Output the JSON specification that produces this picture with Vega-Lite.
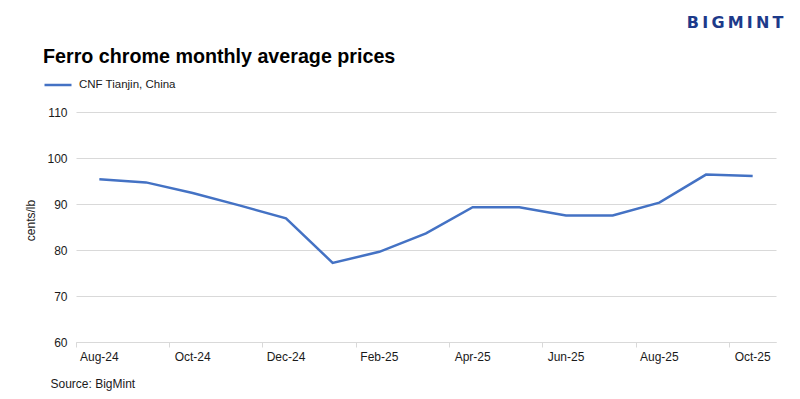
{
  "$schema": "https://vega.github.io/schema/vega-lite/v6.json",
  "width": 700,
  "height": 230,
  "autosize": {"type": "none"},
  "padding": {"left": 76, "top": 112, "right": 24, "bottom": 57},
  "background": "white",
  "config": {"view": {"stroke": null}, "font": "Liberation Sans"},
  "title": {"text": "Ferro chrome monthly average prices", "anchor": "start", "frame": "group", "dx": -33, "offset": -53, "fontSize": 19.7, "font": "Liberation Sans", "fontWeight": "bold", "color": "#000000"},
  "data": {"values": [
    {"month": "Aug-24", "price": 95.4, "series": "CNF Tianjin, China"},
    {"month": "Sep-24", "price": 94.7, "series": "CNF Tianjin, China"},
    {"month": "Oct-24", "price": 92.4, "series": "CNF Tianjin, China"},
    {"month": "Nov-24", "price": 89.7, "series": "CNF Tianjin, China"},
    {"month": "Dec-24", "price": 86.9, "series": "CNF Tianjin, China"},
    {"month": "Jan-25", "price": 77.2, "series": "CNF Tianjin, China"},
    {"month": "Feb-25", "price": 79.6, "series": "CNF Tianjin, China"},
    {"month": "Mar-25", "price": 83.6, "series": "CNF Tianjin, China"},
    {"month": "Apr-25", "price": 89.3, "series": "CNF Tianjin, China"},
    {"month": "May-25", "price": 89.3, "series": "CNF Tianjin, China"},
    {"month": "Jun-25", "price": 87.5, "series": "CNF Tianjin, China"},
    {"month": "Jul-25", "price": 87.5, "series": "CNF Tianjin, China"},
    {"month": "Aug-25", "price": 90.3, "series": "CNF Tianjin, China"},
    {"month": "Sep-25", "price": 96.4, "series": "CNF Tianjin, China"},
    {"month": "Oct-25", "price": 96.1, "series": "CNF Tianjin, China"}
  ]},
  "layer": [
    {
      "mark": {"type": "line", "strokeWidth": 2.5, "strokeJoin": "miter"},
      "encoding": {
        "x": {
          "field": "month", "type": "ordinal", "sort": null, "bandPosition": 0.5,
          "scale": {"type": "band", "paddingInner": 0, "paddingOuter": 0},
          "axis": {
            "values": ["Aug-24", "Oct-24", "Dec-24", "Feb-25", "Apr-25", "Jun-25", "Aug-25", "Oct-25"],
            "bandPosition": 0, "labelAngle": 0, "grid": false,
            "domainColor": "#d9d9d9", "tickColor": "#d9d9d9", "tickSize": 5,
            "labelFontSize": 12, "labelColor": "#1a1a1a", "labelPadding": 4,
            "title": "Source: BigMint", "titleFontSize": 12, "titleFontWeight": "normal", "titleColor": "#1a1a1a",
            "titleX": -26, "titleY": 41, "titleAlign": "left", "titleBaseline": "middle"
          }
        },
        "y": {
          "field": "price", "type": "quantitative",
          "scale": {"domain": [60, 110], "nice": false, "zero": false},
          "axis": {
            "values": [60, 70, 80, 90, 100, 110], "grid": true, "gridColor": "#d9d9d9", "gridWidth": 1,
            "domain": false, "ticks": false, "labelPadding": 9, "labelFontSize": 12, "labelColor": "#1a1a1a",
            "title": "cents/lb", "titleFontSize": 12, "titleFontWeight": "normal", "titleColor": "#1a1a1a",
            "titleX": -46, "titleY": 108, "titleBaseline": "middle"
          }
        },
        "color": {
          "field": "series", "type": "nominal",
          "scale": {"range": ["#4472C4"]},
          "legend": {
            "title": null, "orient": "none", "legendX": -33, "legendY": -42,
            "symbolType": "stroke", "symbolSize": 729, "symbolStrokeWidth": 2.5,
            "labelFontSize": 11.5, "labelColor": "#1a1a1a", "labelOffset": 6
          }
        }
      }
    },
    {
      "mark": {"type": "line", "strokeOpacity": 0},
      "encoding": {
        "x": {"field": "month", "type": "ordinal", "sort": null, "bandPosition": 0.5},
        "y": {
          "field": "price", "type": "quantitative",
          "axis": {
            "orient": "right", "labels": false, "ticks": false, "domain": false, "grid": false,
            "title": "B\u2009I\u2009G\u2009M\u2009I\u2009N\u2009T", "titleAngle": 0, "titleAlign": "right", "titleBaseline": "middle",
            "titleX": 7, "titleY": -90, "titleFontSize": 16, "titleFont": "DejaVu Sans", "titleFontWeight": "bold", "titleColor": "#1d3a8a"
          }
        }
      }
    }
  ],
  "resolve": {"axis": {"y": "independent"}}
}
